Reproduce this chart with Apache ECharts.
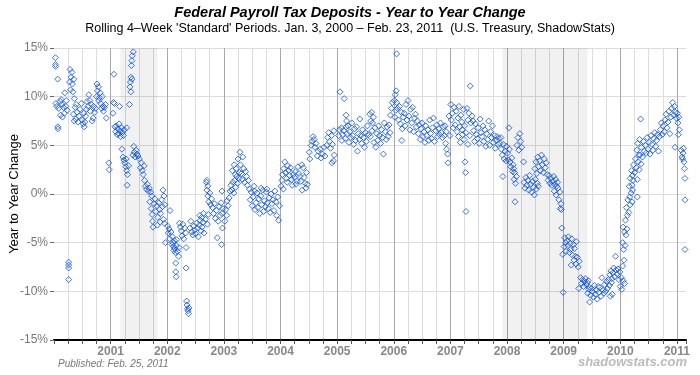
<!DOCTYPE html>
<html>
<head>
<meta charset="utf-8">
<script src="https://cdn.jsdelivr.net/npm/echarts@6/dist/echarts.min.js"></script>
<style>
html, body { margin: 0; padding: 0; background: #fff; }
#main { width: 700px; height: 375px; }
</style>
</head>
<body>
<div id="main"></div>
<script>
// each point: [month offset within the year (0-12), % change year to year]
var d2000 = [[0.3,14.0],[0.3,13.3],[0.35,13.1],[0.8,11.8],[0.8,6.9],[0.85,6.7],
  [0.4,9.3],[0.6,9.0],[1.0,8.8],[1.3,9.5],[1.5,9.7],[1.7,9.2],[2.0,8.9],[2.2,8.3],[2.5,9.0],[2.6,9.6],[2.8,8.6],[1.8,7.9],[2.3,10.4],[1.4,8.1],
  [3.1,-7.0],[3.1,-7.3],[3.1,-7.6],[3.1,-8.8],
  [3.3,11.5],[3.4,12.8],[3.6,12.0],[3.8,12.5],[3.9,11.3],[3.5,10.7],[4.0,10.5],[4.2,11.8],[4.3,9.8],
  [4.1,8.2],[4.3,7.5],[4.5,8.9],[4.7,9.2],[4.9,8.4],[5.1,7.4],[5.3,8.0],[4.6,7.7],[5.5,8.7],
  [5.8,9.3],[6.0,7.6],[6.2,7.2],[6.4,6.9],[6.5,7.4],[6.7,8.0],[6.9,8.7],[7.0,9.5],[7.2,9.0],[7.4,10.2],[7.6,9.6],[7.7,8.5],[7.9,9.2],[8.1,7.5],[8.3,7.8],[8.4,9.0],[8.6,8.4],[6.3,8.3],[8.8,8.8],
  [9.0,10.0],[9.1,11.3],[9.2,10.6],[9.4,11.0],[9.5,9.6],[9.6,9.9],[9.8,10.4],[9.9,9.3],[10.1,8.8],[10.2,10.0],[10.4,9.0],[10.5,8.5],[10.7,8.9],[10.9,9.2],[11.1,7.8],
  [11.6,3.2],[11.7,2.5]];
var d2001 = [[0.7,12.3],[0.6,9.4],[0.5,8.3],[0.8,9.3],[1.9,9.0],
  [0.9,6.9],[1.1,6.4],[1.2,7.0],[1.4,6.1],[1.5,6.7],[1.7,6.2],[1.8,7.2],[2.0,6.5],[2.1,5.9],[2.3,6.8],[2.5,6.3],[2.7,6.0],[2.9,6.6],[3.4,6.8],
  [4.0,9.2],[4.1,11.0],[4.2,11.5],[4.3,12.0],[4.4,13.2],[4.5,13.7],[4.6,14.2],[4.8,14.6],[4.3,10.5],[4.5,11.8],
  [2.4,4.6],[2.6,3.8],[2.8,3.5],[3.0,3.2],[3.2,2.8],[3.4,2.4],[3.6,2.0],[3.8,2.9],[3.3,3.6],[3.5,0.9],
  [4.7,4.0],[4.9,4.9],[5.0,4.3],[5.2,3.8],[5.4,4.5],[5.6,4.1],[5.8,3.9],
  [6.1,3.6],[6.3,2.7],[6.5,3.2],[6.7,2.4],[6.9,2.0],[7.1,2.9],
  [7.2,1.4],[7.4,0.8],[7.6,0.5],[7.8,1.0],[8.0,0.3],[8.2,0.6],[8.5,0.2],[8.7,-0.2],
  [8.3,-0.8],[8.6,-1.5],[8.8,-2.1],[8.9,-2.8],[9.0,-3.4],[9.2,-1.0],[9.4,-0.5],[9.6,-1.8],[9.8,-1.2],[10.0,-2.4],[10.2,-0.9],[10.4,-1.6],[10.6,-2.0],[10.8,-0.6],[11.0,-1.3],[11.2,-2.6],[11.4,-3.0],[11.5,-1.1],
  [11.1,0.4],[11.3,-0.2],[11.6,-5.0],[9.9,-3.2],[10.5,-2.9]];
var d2002 = [[0.1,-3.3],[0.2,-4.0],[0.4,-3.6],[0.5,-4.6],[0.6,-1.7],[0.8,-3.9],[1.0,-5.2],[1.1,-4.4],[1.3,-5.4],[1.5,-4.8],[1.6,-5.6],
  [1.2,-5.0],[1.4,-5.8],[1.7,-6.0],[1.9,-5.3],[2.0,-4.7],[2.2,-5.9],[2.4,-6.4],[2.5,-5.5],[1.8,-7.1],[1.8,-8.0],[1.9,-8.5],
  [2.6,-3.0],[2.8,-3.4],[3.0,-3.8],[3.1,-4.3],[3.3,-3.1],[3.5,-4.6],[3.7,-3.5],[3.9,-4.0],
  [4.0,-5.5],[4.0,-7.6],
  [4.1,-11.0],[4.2,-11.4],[4.3,-11.8],[4.4,-12.0],[4.5,-12.3],[4.6,-11.7],
  [4.8,-3.5],[5.0,-2.8],[5.2,-3.9],[5.4,-4.2],[5.6,-3.3],[5.8,-3.7],[6.0,-4.1],[6.2,-3.0],[6.4,-3.5],[6.6,-4.4],[6.8,-3.2],[7.0,-2.7],[7.2,-3.8],[7.4,-3.4],[7.6,-2.9],[7.8,-4.0],
  [6.9,-2.2],[7.3,-2.4],[7.7,-2.0],[8.1,-2.6],[8.5,-3.1],[8.7,-2.1],
  [8.3,1.2],[8.4,0.4],[8.6,-0.2],[8.8,-0.8],[9.0,0.1],[9.2,-1.1],[9.4,-0.5],[8.4,1.4],[8.6,0.8],
  [10.6,-4.5],
  [9.6,-1.4],[9.8,-2.0],[10.0,-1.0],[10.2,-2.5],[10.4,-1.7],[10.8,-2.8],[11.0,-1.3],[11.2,-2.2],[11.4,-0.9],[11.6,-2.0],[11.8,-1.5],
  [11.5,-5.2],[11.6,0.3],[11.7,-3.5]];
var d2003 = [[0.2,-2.8],[0.4,-1.6],[0.6,-2.2],[0.7,-0.7],[0.9,-1.2],[1.1,-0.4],[1.3,0.3],[1.5,0.9],[1.7,0.4],[1.9,1.2],[2.1,0.1],[2.3,1.4],[2.5,0.7],[2.7,1.8],[2.9,1.1],
  [1.8,2.4],[2.2,3.0],[2.4,2.0],[2.6,2.6],[3.0,3.6],[3.2,1.6],[3.3,2.2],
  [3.4,4.3],[3.5,3.0],[3.7,2.1],[3.9,1.5],[4.0,3.8],[4.2,2.6],[4.4,1.2],[4.6,2.3],[4.8,1.8],[5.0,0.9],[5.2,1.4],
  [5.4,0.5],[5.6,-0.6],[5.8,0.2],[6.0,-1.2],[6.2,-0.3],[6.4,0.8],[6.6,-1.6],[6.8,-0.9],[7.0,0.1],[7.2,-1.4],[7.4,-0.5],[7.6,-2.0],[7.8,-0.2],[8.0,-1.1],[8.2,0.4],[8.4,-1.8],[8.6,-0.7],[8.8,-1.3],[9.0,0.2],[9.2,-0.9],[9.4,-1.5],[9.6,-0.4],[9.8,-1.9],[10.0,0.0],[10.2,-1.0],[10.4,-0.6],[10.6,-1.7],[10.8,0.3],[11.0,-0.8],[11.2,-2.2],[11.4,-0.3],[11.6,-2.7],[11.8,-1.2],[6.5,0.3],[9.1,0.5],[7.9,0.6]];
var d2004 = [[0.1,0.8],[0.3,1.4],[0.6,0.5],[1.4,1.2],[2.5,0.9],[3.5,1.3],[4.6,0.4],[5.4,0.6],
  [0.4,2.0],[0.7,2.6],[0.9,3.3],[1.1,2.2],[1.3,1.6],[1.5,2.9],[1.7,2.4],[1.9,1.9],[2.1,2.7],[2.3,1.5],[2.7,2.0],[2.9,1.7],[3.1,2.3],[3.3,1.0],[3.7,2.8],[3.9,2.1],[4.1,1.8],[4.3,1.3],[4.5,3.0],[4.8,2.7],[5.0,1.7],[5.2,1.1],[5.5,2.2],[5.7,1.0],
  [6.1,4.3],[6.2,3.6],[6.5,5.0],[6.7,5.4],[6.9,5.9],[7.1,5.6],[7.3,4.8],[7.5,5.2],[7.8,3.9],[8.0,4.4],
  [8.4,4.6],[8.6,3.7],[8.9,4.1],[9.2,4.8],[9.4,3.9],
  [9.8,5.0],[10.0,5.8],[10.2,6.3],[10.4,5.4],[10.6,4.7],[10.8,6.0],[11.0,5.1],[11.2,3.4],[11.3,6.5],[10.9,3.2],[11.4,4.0]];
var d2005 = [[0.3,6.0],[0.5,6.6],[0.6,10.5],[0.9,6.8],[1.5,9.8],[1.0,5.5],[1.2,6.1],
  [1.4,6.5],[1.7,5.7],[1.9,6.9],[2.1,6.2],[2.3,7.0],[2.5,5.3],[1.9,8.1],[2.0,7.5],
  [2.7,6.4],[2.9,5.8],[3.1,7.3],[3.3,6.0],[3.5,5.1],[3.7,6.7],[3.9,5.5],[4.1,6.9],[4.3,4.4],[4.5,6.2],[4.7,5.6],[4.8,7.7],[5.0,6.0],[5.2,5.2],[5.4,6.6],[5.6,5.8],[5.8,4.8],[6.0,6.3],[6.2,5.4],[6.4,7.0],[6.6,6.1],
  [6.9,8.2],[7.1,7.5],[7.3,8.4],[7.5,7.3],[7.7,7.9],
  [7.0,5.9],[7.4,6.5],[7.8,5.3],[8.0,6.8],[8.2,4.8],
  [8.4,6.2],[8.6,5.5],[8.8,7.0],[9.0,6.0],[9.2,5.2],[9.4,6.6],[9.6,5.8],[9.8,4.1],[10.0,7.3],[10.2,6.4],[10.4,5.6],[10.6,6.9],[10.8,5.9],[11.0,7.1],[11.2,6.3],[11.3,8.1],[11.5,8.8],[11.7,9.4]];
var d2006 = [[0.1,9.6],[0.3,10.2],[0.5,10.6],[0.6,9.4],[0.6,14.4],[0.2,7.9],[0.4,8.6],
  [0.8,8.8],[1.0,7.6],[1.2,9.0],[1.4,7.2],[1.6,8.4],[1.8,6.7],[1.7,5.5],[2.0,7.9],[2.2,8.3],[2.4,7.0],[2.6,9.2],[2.8,7.6],[3.0,9.6],[3.2,8.0],[3.4,6.6],[3.6,8.7],[3.8,7.3],[4.0,8.9],[4.2,6.4],[4.4,7.8],[4.6,8.2],
  [4.8,6.9],[5.0,7.5],[5.2,6.2],[5.4,7.1],[5.6,5.6],[5.8,6.7],[6.0,7.3],[6.2,5.9],[6.4,6.4],[6.6,5.3],[6.8,7.0],[7.0,6.0],[7.2,6.6],[7.4,5.5],[7.6,7.6],[7.8,6.2],[8.0,5.7],[8.2,6.8],[8.4,7.8],[8.6,5.4],
  [8.9,6.5],[9.1,7.1],[9.3,5.9],[9.5,6.7],[9.7,6.1],[9.9,7.3],[10.1,6.3],[10.3,5.8],[10.5,6.9],[10.7,6.0],[10.9,7.0],[11.1,6.4],
  [11.0,5.2],[11.2,4.6],[11.4,4.1],[11.5,3.2],[11.7,8.0],[11.9,6.0]];
var d2007 = [[0.1,9.2],[0.2,7.6],[0.4,8.3],[0.6,6.8],[0.8,8.9],[1.0,7.1],[1.2,8.5],[1.4,6.4],[1.6,7.8],[1.8,9.0],[2.0,6.9],[2.2,8.1],[2.4,7.4],[2.6,6.1],[2.8,8.7],[3.0,7.0],
  [1.7,5.9],[2.1,5.3],[2.5,6.6],[2.9,5.6],[3.3,6.3],[3.7,5.1],[4.1,6.0],
  [3.1,3.3],[3.2,2.2],[3.3,-1.8],[4.2,11.1],
  [3.5,8.8],[3.7,7.6],[3.9,8.3],[4.3,7.3],[4.6,8.0],[4.8,7.5],
  [4.9,6.5],[5.1,5.4],[5.3,7.2],[5.5,6.1],[5.7,5.7],[5.9,6.8],[6.1,5.2],[6.3,7.7],[6.5,6.3],
  [6.7,5.9],[6.9,7.0],[7.1,5.4],[7.3,6.6],[7.5,4.9],[7.7,6.2],[7.9,5.6],[8.1,7.5],[8.3,5.0],[8.5,6.4],[8.7,5.8],[8.9,7.0],[9.1,5.3],[9.3,6.0],[9.5,4.7],
  [9.7,5.5],[9.9,5.9],[10.1,5.1],[10.3,5.7],[10.5,5.2],[10.7,5.8],
  [10.8,4.6],[11.0,4.0],[11.2,5.1],[11.4,3.6],[11.6,4.4],[11.8,3.4],[11.9,4.9],[11.1,1.8]];
var d2008 = [[0.1,4.2],[0.3,3.5],[0.4,6.8],[0.5,4.6],[0.6,3.3],[0.8,2.8],[1.0,3.7],[1.2,2.3],[1.3,3.0],[1.4,2.6],
  [1.5,1.5],[1.6,2.2],[1.7,-0.8],[1.8,1.1],[2.0,1.8],
  [2.1,5.0],[2.3,5.8],[2.5,4.5],[2.7,6.2],[2.9,5.4],[3.1,4.8],[3.5,3.3],
  [3.6,1.2],[3.8,0.6],[4.0,1.7],[4.2,0.9],[4.4,1.4],[4.6,0.4],[4.8,1.9],[5.0,1.0],[5.2,0.2],[5.4,1.3],[5.6,0.7],[5.8,-0.1],[6.0,1.5],[6.2,0.5],[6.4,1.1],[6.6,0.8],
  [5.9,2.6],[6.1,3.3],[6.3,2.1],[6.5,3.8],[6.7,2.8],[6.9,3.4],[7.1,2.4],[7.3,4.0],[7.5,3.0],[7.7,2.2],[7.9,3.6],[8.1,2.7],[8.3,3.2],[8.5,2.0],
  [8.7,1.4],[8.9,1.9],[9.1,1.1],[9.3,1.6],[9.5,0.9],[9.7,1.3],[9.9,1.8],[10.1,1.0],[10.3,1.5],[10.5,0.8],[10.7,1.2],
  [10.0,0.3],[10.4,-0.1],[10.8,0.6],[11.0,-0.6],[11.2,0.2],[11.3,-1.5],[11.4,-1.0],[11.5,-1.6],[11.6,-3.5],[11.8,-6.2],[11.9,-10.1]];
var d2009 = [[0.1,-5.4],[0.2,-4.5],[0.4,-5.0],[0.5,-5.9],[0.7,-4.8],[0.9,-5.3],[1.0,-4.4],[1.2,-6.0],[1.4,-5.1],[1.5,-5.7],[1.7,-4.6],[1.9,-6.3],[2.1,-5.2],[2.3,-5.6],[2.5,-6.4],[2.7,-4.9],[1.6,-7.3],
  [2.2,-6.8],[2.6,-7.2],[2.9,-6.5],[3.1,-7.5],[3.3,-6.9],[3.2,-9.7],
  [3.6,-8.6],[3.8,-9.2],[4.0,-8.8],[4.2,-9.5],[4.4,-9.0],[4.6,-8.7],[4.8,-9.3],[5.0,-9.1],[5.2,-8.9],[5.4,-9.6],
  [5.1,-10.2],[5.3,-9.8],[5.5,-11.1],[5.7,-10.4],[5.9,-9.7],[6.1,-10.0],[6.3,-10.6],[6.5,-9.4],[6.7,-10.3],[6.9,-9.9],[7.1,-10.8],[7.3,-9.5],[7.5,-10.1],[7.7,-9.6],[7.9,-10.5],[8.1,-8.6],[8.3,-9.9],[8.5,-10.2],
  [8.7,-9.3],[8.9,-10.0],[9.1,-9.0],[9.3,-9.7],[9.5,-8.8],[9.7,-9.4],[9.9,-10.5],[10.1,-9.1],[10.3,-10.3],
  [9.8,-8.3],[10.0,-7.9],[10.2,-8.7],[10.4,-8.1],[10.6,-7.6],[10.8,-8.5],[11.0,-6.4],[11.1,-7.8],[11.3,-8.2],[11.5,-7.7],[11.7,-8.8],[11.9,-8.0]];
var d2010 = [[0.0,-9.5],[0.2,-8.6],[0.3,-9.8],[0.5,-7.4],[0.6,-8.9],[0.8,-6.8],[0.9,-9.2],
  [0.5,-5.0],[0.7,-5.7],[1.0,-5.3],[0.6,-3.4],[0.9,-3.9],[1.2,-4.2],[1.4,-3.6],
  [1.1,-2.7],[1.3,-1.4],[1.5,-2.2],[1.6,-0.6],[1.8,-1.9],[2.0,-0.3],[2.1,-1.1],[2.3,0.1],[2.5,-0.8],[2.6,0.4],[2.7,1.4],[2.5,0.9],[3.6,-0.3],
  [1.9,0.8],[2.1,1.6],[2.4,2.4],[2.6,1.9],[2.8,3.0],[3.0,2.2],[3.2,3.6],[3.4,2.7],[3.6,1.5],[3.8,3.3],[4.0,2.5],[4.2,4.0],[4.4,3.1],[4.3,7.7],
  [3.5,4.5],[3.7,5.2],[3.9,4.0],[4.1,5.6],[4.5,4.8],[4.7,3.8],[4.9,5.4],[5.1,4.4],[5.3,5.0],[5.5,4.2],
  [5.7,5.8],[5.9,4.6],[6.1,5.3],[6.3,4.1],[6.5,6.0],[6.7,5.1],[6.9,4.5],[7.1,5.7],[7.3,6.3],[7.5,4.9],[7.7,5.5],[7.9,6.1],[8.1,4.4],[8.3,5.9],
  [8.5,6.6],[8.7,7.3],[8.9,6.1],[9.1,7.0],[9.3,6.4],[9.5,7.6],[9.7,8.2],[9.9,6.8],[10.1,7.4],[10.3,8.5],[10.5,6.2],[10.7,7.9],
  [10.9,8.8],[11.1,9.4],[11.3,8.1],[11.5,9.0],[11.6,4.8],[11.7,8.4],[11.9,7.8]];
var d2011 = [[0.1,8.3],[0.2,7.3],[0.3,6.1],[0.4,7.9],[0.5,6.6],[0.9,4.5],[1.1,3.8],[1.3,4.2],[1.5,3.3],[1.6,2.6],[1.2,3.6],[1.7,1.6],[1.4,4.7],[1.7,-0.6],[1.7,-5.7]];

var yearLabels = ['2001', '2002', '2003', '2004', '2005', '2006', '2007', '2008', '2009', '2010', '2011'];
// recessions, in decimal years
var recessions = [[2001.17, 2001.83], [2007.92, 2009.42]];

(function() {
    var chartDom = document.getElementById('main');
    var myChart = echarts.init(chartDom);
    var font = "'Liberation Sans', Arial, sans-serif";

    var byYear = [
        [2000, d2000], [2001, d2001], [2002, d2002], [2003, d2003], [2004, d2004], [2005, d2005],
        [2006, d2006], [2007, d2007], [2008, d2008], [2009, d2009], [2010, d2010], [2011, d2011]
    ];
    var points = [];
    byYear.forEach(function(y) {
        y[1].forEach(function(p) {
            points.push([y[0] + p[0] / 12, p[1]]);
        });
    });

    var option = {
        animation: false,
        title: [{
            text: 'Federal Payroll Tax Deposits - Year to Year Change',
            left: 'center',
            top: 0,
            textStyle: { fontFamily: font, fontSize: 14.5, fontWeight: 'bold', fontStyle: 'italic', color: '#000' }
        }, {
            text: "Rolling 4\u2013Week 'Standard' Periods. Jan. 3, 2000 \u2013 Feb. 23, 2011  (U.S. Treasury, ShadowStats)",
            left: 'center',
            top: 17,
            textStyle: { fontFamily: font, fontSize: 12.5, fontWeight: 'normal', color: '#000' }
        }],
        graphic: [{
            type: 'text',
            left: 58,
            top: 359,
            style: { text: 'Published: Feb. 25, 2011', font: 'italic 10px ' + font, fill: '#777' }
        }, {
            type: 'text',
            right: 13,
            top: 356,
            style: { text: 'shadowstats.com', font: 'italic bold 13px ' + font, fill: '#bbb' }
        }],
        grid: {
            left: 54,
            right: 14,
            top: 48,
            bottom: 35,
            containLabel: false,
            outerBoundsMode: 'none'
        },
        xAxis: [{
            type: 'value',
            min: 2000,
            max: 2011.16,
            interval: 0.25,
            axisLine: { show: true, onZero: false, lineStyle: { color: '#000', width: 2 } },
            axisTick: { show: true, length: 4, lineStyle: { color: '#555' } },
            axisLabel: {
                margin: 6,
                fontFamily: font,
                fontSize: 12,
                fontWeight: 'bold',
                color: '#888',
                formatter: function(v) {
                    var s = String(v);
                    return yearLabels.indexOf(s) >= 0 ? s : '';
                }
            },
            splitLine: { show: true, showMinLine: false, showMaxLine: false, lineStyle: { color: '#dcdcdc', width: 1 } }
        }, {
            type: 'value',
            min: 2000,
            max: 2011.16,
            interval: 1,
            position: 'bottom',
            axisLine: { show: false },
            axisTick: { show: false },
            axisLabel: { show: false },
            splitLine: { show: true, showMinLine: false, showMaxLine: false, lineStyle: { color: '#a8a8a8', width: 1 } }
        }],
        yAxis: {
            type: 'value',
            min: -15,
            max: 15,
            interval: 5,
            name: 'Year to Year Change',
            nameLocation: 'middle',
            nameGap: 33,
            nameMoveOverlap: false,
            nameTextStyle: { fontFamily: font, fontSize: 13, color: '#000' },
            axisLine: { show: false },
            axisTick: { show: true, length: 4, lineStyle: { color: '#666' } },
            axisLabel: { margin: 6, fontFamily: font, fontSize: 12, color: '#777', formatter: '{value}%' },
            splitLine: { show: true, lineStyle: { color: '#dcdcdc' } }
        },
        series: [{
            name: 'Payroll tax deposits',
            type: 'scatter',
            xAxisIndex: 0,
            symbol: 'diamond',
            symbolSize: 6,
            itemStyle: { color: 'transparent', borderColor: '#0b50e0', borderWidth: 1 },
            data: points,
            markArea: {
                silent: true,
                itemStyle: { color: 'rgba(0,0,0,0.055)' },
                data: recessions.map(function(r) {
                    return [{ xAxis: r[0] }, { xAxis: r[1] }];
                })
            }
        }]
    };

    myChart.setOption(option);
})();
</script>
</body>
</html>
